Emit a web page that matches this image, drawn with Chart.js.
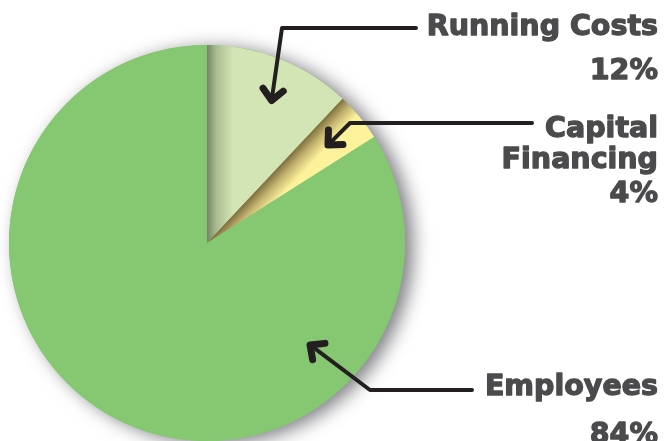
<!DOCTYPE html>
<html>
<head>
<meta charset="utf-8">
<script src="https://cdn.jsdelivr.net/npm/chart.js"></script>
<style>
  html, body { margin: 0; padding: 0; background: #fff; }
  #wrap { width: 664px; height: 441px; position: relative; }
</style>
</head>
<body>
<div id="wrap"><canvas id="pie" width="664" height="441"></canvas></div>
<script>
// data
const categories = ["Running Costs", "Capital Financing", "Employees"];
const shares = [12, 4, 84];
const sliceColors = ["#d3e5b4", "#fcf29c", "#86c772"];

// callout text lines, right aligned at x=658
const calloutLines = [
  { text: "Running Costs", y: 35 },
  { text: "12%", y: 79 },
  { text: "Capital", y: 137 },
  { text: "Financing", y: 168 },
  { text: "4%", y: 202 },
  { text: "Employees", y: 395 },
  { text: "84%", y: 443 }
];

// leader lines: label end, elbow, then arrow tip given as (degrees from 12 o'clock, fraction of radius)
const leaders = [
  { from: [416, 28], elbow: [282, 28], tipAngle: 24.4, tipR: 0.79 },
  { from: [532, 123], elbow: [350, 123], tipAngle: 51.0, tipR: 0.786 },
  { from: [472, 390], elbow: [370, 390], tipAngle: 134.7, tipR: 0.732 }
];

function sliceFill(context) {
  const chart = context.chart;
  const area = chart.chartArea;
  const i = context.dataIndex;
  if (!area) return sliceColors[i];
  const cx = (area.left + area.right) / 2;
  const cy = (area.top + area.bottom) / 2;
  const ctx = chart.ctx;
  const total = shares.reduce((a, b) => a + b, 0);
  if (i === 0) {
    // darker band along the vertical edge
    const g = ctx.createLinearGradient(cx, 0, cx + 26, 0);
    g.addColorStop(0, "rgb(118,132,100)");
    g.addColorStop(0.35, "rgb(170,186,145)");
    g.addColorStop(1, sliceColors[0]);
    return g;
  }
  if (i === 1) {
    const a = shares[0] / total * 2 * Math.PI;
    const nx = Math.cos(a), ny = Math.sin(a);
    const L = 22;
    const g = ctx.createLinearGradient(cx, cy, cx + nx * L, cy + ny * L);
    g.addColorStop(0, "rgb(128,110,62)");
    g.addColorStop(0.45, "rgb(196,180,112)");
    g.addColorStop(1, sliceColors[1]);
    return g;
  }
  return sliceColors[i];
}

const pieShadow = {
  id: "pieShadow",
  beforeDatasetsDraw(chart) {
    const arc = chart.getDatasetMeta(0).data[0];
    if (!arc) return;
    const ctx = chart.ctx;
    ctx.save();
    ctx.shadowColor = "rgba(40,40,50,0.6)";
    ctx.shadowBlur = 18;
    ctx.shadowOffsetX = 8;
    ctx.shadowOffsetY = 3;
    ctx.fillStyle = sliceColors[2];
    ctx.beginPath();
    ctx.arc(arc.x, arc.y, arc.outerRadius, 0, Math.PI * 2);
    ctx.fill();
    ctx.restore();
  }
};

const callouts = {
  id: "callouts",
  afterDatasetsDraw(chart) {
    const arc = chart.getDatasetMeta(0).data[0];
    const ctx = chart.ctx;
    ctx.save();
    ctx.strokeStyle = "#231f20";
    ctx.lineCap = "round";
    ctx.lineJoin = "round";
    leaders.forEach(function (l) {
      const a = l.tipAngle * Math.PI / 180;
      const tx = arc.x + Math.sin(a) * arc.outerRadius * l.tipR;
      const ty = arc.y - Math.cos(a) * arc.outerRadius * l.tipR;
      ctx.lineWidth = 4;
      ctx.beginPath();
      ctx.moveTo(l.from[0], l.from[1]);
      ctx.lineTo(l.elbow[0], l.elbow[1]);
      ctx.lineTo(tx, ty);
      ctx.stroke();
      // chevron head
      const dir = Math.atan2(ty - l.elbow[1], tx - l.elbow[0]);
      const len = 15, spread = 0.75;
      ctx.lineWidth = 7;
      ctx.beginPath();
      ctx.moveTo(tx - Math.cos(dir - spread) * len, ty - Math.sin(dir - spread) * len);
      ctx.lineTo(tx, ty);
      ctx.lineTo(tx - Math.cos(dir + spread) * len, ty - Math.sin(dir + spread) * len);
      ctx.stroke();
    });
    ctx.fillStyle = "#4b4b4d";
    ctx.strokeStyle = "#4b4b4d";
    ctx.lineWidth = 1.3;
    ctx.font = "bold 28.5px 'DejaVu Sans'";
    ctx.textAlign = "right";
    ctx.textBaseline = "alphabetic";
    calloutLines.forEach(function (t) {
      ctx.fillText(t.text, 658, t.y);
      ctx.strokeText(t.text, 658, t.y);
    });
    ctx.restore();
  }
};

new Chart(document.getElementById("pie").getContext("2d"), {
  type: "pie",
  data: {
    labels: categories,
    datasets: [{
      data: shares,
      backgroundColor: sliceFill,
      borderWidth: 0
    }]
  },
  options: {
    responsive: false,
    animation: false,
    layout: { padding: { left: 9, right: 259, top: 45, bottom: 0 } },
    plugins: {
      legend: { display: false },
      tooltip: { enabled: false }
    }
  },
  plugins: [pieShadow, callouts]
});
</script>
</body>
</html>
